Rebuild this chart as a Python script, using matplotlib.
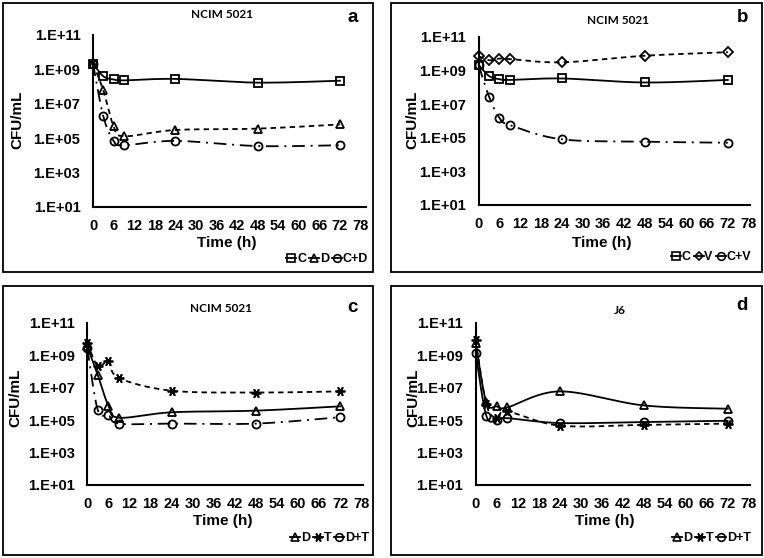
import numpy as np
import matplotlib
matplotlib.use("Agg")
import matplotlib.pyplot as plt
from matplotlib.lines import Line2D
from matplotlib.patches import Rectangle
from matplotlib.ticker import FixedLocator, FixedFormatter

# ---------------- data ----------------
time_h = [0, 3, 6, 9, 24, 48, 72]

# panel a (NCIM 5021)
a_C = [2.2e9, 4.0e8, 2.6e8, 2.3e8, 2.8e8, 1.7e8, 2.2e8]
a_D = [2.2e9, 6.0e7, 5.0e5, 1.3e5, 3.0e5, 3.6e5, 6.3e5]
a_CD = [2.2e9, 1.9e6, 7.0e4, 3.9e4, 7.0e4, 3.5e4, 3.9e4]

# panel b (NCIM 5021)
b_C = [2.1e9, 4.6e8, 3.0e8, 2.7e8, 3.3e8, 1.9e8, 2.7e8]
b_V = [7.0e9, 4.0e9, 5.0e9, 4.7e9, 3.0e9, 7.4e9, 1.2e10]
b_CV = [2.0e9, 2.7e7, 1.5e6, 5.6e5, 8.0e4, 5.8e4, 5.0e4]

# panel c (NCIM 5021)
c_D = [3.6e9, 6.0e7, 7.8e5, 1.4e5, 3.0e5, 3.8e5, 7.0e5]
c_T = [5.8e9, 2.1e8, 4.3e8, 4.0e7, 6.5e6, 5.0e6, 5.9e6]
c_DT = [2.8e9, 4.0e5, 2.1e5, 6.0e4, 6.0e4, 6.0e4, 1.5e5]

# panel d (J6)
d_D = [5.8e9, 1.3e6, 7.0e5, 6.0e5, 5.9e6, 8.0e5, 5.0e5]
d_T = [9.0e9, 1.0e6, 1.3e5, 3.4e5, 4.5e4, 5.0e4, 6.0e4]
d_DT = [1.4e9, 1.9e5, 1.0e5, 1.3e5, 6.5e4, 7.5e4, 9.0e4]

x_ticks = list(range(0, 79, 6))
y_tick_exp = [1, 3, 5, 7, 9, 11]
y_tick_labels = ["1.E+01", "1.E+03", "1.E+05", "1.E+07", "1.E+09", "1.E+11"]

# ---------------- figure ----------------
W, H = 764, 558
fig = plt.figure(figsize=(W / 100, H / 100), dpi=100)
fig.patch.set_facecolor("white")

FONT = "Liberation Sans"
TFONT = "Lato"


def fx(px):
    return px / W


def fy(py):
    return 1 - py / H


def smooth(x, y, n=24):
    """Bezier smoothing in (x, log10 y) space (drawing only)."""
    x = np.asarray(x, float)
    ly = np.log10(np.asarray(y, float))
    P = np.column_stack([x, ly])
    P = np.vstack([P[0], P, P[-1]])
    out = []
    for i in range(1, len(P) - 2):
        p0, p1, p2, p3 = P[i - 1], P[i], P[i + 1], P[i + 2]
        c1 = p1 + (p2 - p0) / 6.0
        c2 = p2 - (p3 - p1) / 6.0
        t = np.linspace(0, 1, n)[:, None]
        seg = ((1 - t) ** 3) * p1 + 3 * ((1 - t) ** 2) * t * c1 + 3 * (1 - t) * t ** 2 * c2 + t ** 3 * p2
        out.append(seg if i == 1 else seg[1:])
    S = np.vstack(out)
    return S[:, 0], 10 ** S[:, 1]


LW = 1.3
SOLID = "-"
DASH = (0, (3.0, 2.3))
DASHDOT = (0, (7.0, 3.2, 1.1, 3.2))

MARK = {
    "sq": dict(marker="s", ms=5.5),
    "tri": dict(marker="^", ms=6.0),
    "circ": dict(marker="o", ms=5.8),
    "dia": dict(marker="D", ms=4.8),
    "star": dict(marker=(6, 2, 90), ms=7.0),
}

panels = [
    dict(frame=(3, 3, 373, 272), left=93, ppu=3.43, xmax=79.5, ytop=35, ybot=207,
         title="NCIM 5021", tpos=(222, 15), letter="a", lpos=(353, 17),
         xl=(227, 243), yl=(17, 120), leg=(368, 259),
         series=[("C", a_C, "sq", SOLID), ("D", a_D, "tri", DASH), ("C+D", a_CD, "circ", DASHDOT)]),
    dict(frame=(391, 3, 762, 272), left=478.7, ppu=3.46, xmax=78.5, ytop=36.7, ybot=205,
         title="NCIM 5021", tpos=(618, 21), letter="b", lpos=(743, 18),
         xl=(602, 243), yl=(412, 120), leg=(751, 257),
         series=[("C", b_C, "sq", SOLID), ("V", b_V, "dia", DASH), ("C+V", b_CV, "circ", DASHDOT)]),
    dict(frame=(3, 286, 373, 555), left=87.3, ppu=3.51, xmax=78.5, ytop=323, ybot=484.7,
         title="NCIM 5021", tpos=(221, 308), letter="c", lpos=(352, 308),
         xl=(223, 521), yl=(15, 398), leg=(369, 538),
         series=[("D", c_D, "tri", SOLID), ("T", c_T, "star", DASH), ("D+T", c_DT, "circ", DASHDOT)]),
    dict(frame=(391, 286, 762, 555), left=475.7, ppu=3.5, xmax=78.5, ytop=323, ybot=484.7,
         title="J6", tpos=(620, 311), letter="d", lpos=(742, 306),
         xl=(605, 521), yl=(413, 398), leg=(751, 538),
         series=[("D", d_D, "tri", SOLID), ("T", d_T, "star", DASH), ("D+T", d_DT, "circ", SOLID)]),
]

for p in panels:
    x0, y0, x1, y1 = p["frame"]
    fig.patches.append(Rectangle((fx(x0), fy(y1)), fx(x1 - x0), (y1 - y0) / H,
                                 transform=fig.transFigure, fill=False,
                                 edgecolor="black", linewidth=1.3))
    right = p["left"] + p["xmax"] * p["ppu"]
    ax = fig.add_axes([fx(p["left"]), fy(p["ybot"]), fx(right - p["left"]), (p["ybot"] - p["ytop"]) / H])
    ax.set_yscale("log")
    ax.set_xlim(0, p["xmax"])
    ax.set_ylim(1e1, 1e11)
    ax.patch.set_alpha(0)
    for s in ["top", "right"]:
        ax.spines[s].set_visible(False)
    for s in ["left", "bottom"]:
        ax.spines[s].set_linewidth(1.5)
    ax.set_xticks(x_ticks)
    ax.set_xticklabels([str(v) for v in x_ticks])
    ax.yaxis.set_major_locator(FixedLocator([10.0 ** e for e in y_tick_exp]))
    ax.yaxis.set_major_formatter(FixedFormatter(y_tick_labels))
    ax.yaxis.set_minor_locator(FixedLocator([]))
    ax.tick_params(axis="both", length=0, labelsize=10.5)
    ax.tick_params(axis="x", pad=9)
    ax.tick_params(axis="y", pad=9)
    for lab in ax.get_xticklabels() + ax.get_yticklabels():
        lab.set_fontfamily(FONT)
        lab.set_fontweight("bold")

    handles = []
    for name, vals, mk, ls in p["series"]:
        sx, sy = smooth(time_h, vals)
        ax.plot(sx, sy, color="black", lw=LW, ls=ls, zorder=2, clip_on=False)
        m = MARK[mk]
        ax.plot(time_h, vals, ls="none", marker=m["marker"], ms=m["ms"],
                mfc="none", mec="black", mew=1.3, zorder=3, clip_on=False)
        handles.append(Line2D([], [], color="black", lw=LW, ls="-",
                              marker=m["marker"], ms=m["ms"] * 0.95, mfc="none",
                              mec="black", mew=1.2, label=name))

    fig.text(fx(p["tpos"][0]), fy(p["tpos"][1]), p["title"], ha="center", va="center",
             fontsize=8.5, fontweight="bold", family=TFONT)
    fig.text(fx(p["lpos"][0]), fy(p["lpos"][1]), p["letter"], ha="center", va="center",
             fontsize=13.5, fontweight="bold", family=FONT)
    fig.text(fx(p["xl"][0]), fy(p["xl"][1]), "Time (h)", ha="center", va="center",
             fontsize=11, fontweight="bold", family=FONT)
    fig.text(fx(p["yl"][0]), fy(p["yl"][1]), "CFU/mL", ha="center", va="center",
             rotation=90, fontsize=11, fontweight="bold", family=FONT)
    leg = fig.legend(handles=handles, loc="center right",
                     bbox_to_anchor=(fx(p["leg"][0]), fy(p["leg"][1])),
                     ncol=3, frameon=False, handlelength=0.8, handletextpad=0.05,
                     columnspacing=0.25, borderpad=0, borderaxespad=0,
                     prop=dict(family=FONT, weight="bold", size=9))

fig.savefig("out.png", dpi=100, facecolor="white")
